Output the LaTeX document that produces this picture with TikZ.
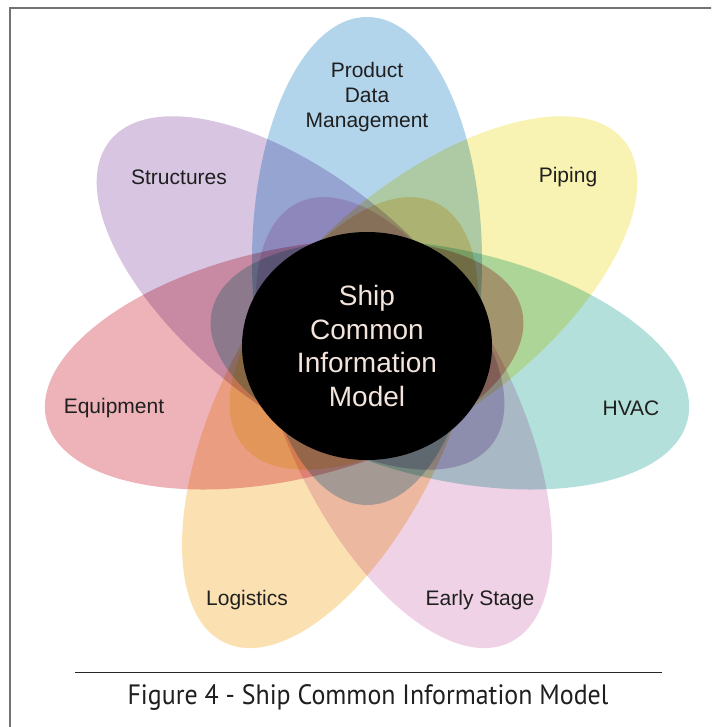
\documentclass[tikz,border=0pt]{standalone}
\usepackage{fontspec}
\setmainfont{Liberation Sans}
\newfontfamily\capfont[FakeStretch=0.925]{PT Sans}
\usetikzlibrary{shapes.geometric}

\definecolor{pdmblue}{HTML}{B3D5EC}
\definecolor{pipeyellow}{HTML}{F8F3B2}
\definecolor{hvacteal}{HTML}{B3E0DA}
\definecolor{earlypink}{HTML}{F0D2E6}
\definecolor{logorange}{HTML}{FBE1B2}
\definecolor{equipred}{HTML}{EEB3B8}
\definecolor{structpurple}{HTML}{D7C5E2}
\definecolor{coretext}{HTML}{F3E4DC}

\begin{document}
\begin{tikzpicture}[x=1pt,y=-1pt,
  petal/.style={fill=#1},
  tag/.style={font=\fontsize{21}{25}\selectfont, text=black!88, align=center, inner sep=0pt},
  ]
\clip (0,0) rectangle (711,727);
\fill[white] (0,0) rectangle (711,727);
\draw[black!55, line width=1.3pt] (10,8) rectangle (760,780);

\coordinate (hub) at (367,346);
\begin{scope}[blend group=multiply]
\foreach \ang/\col in {90/pdmblue, 38.57/pipeyellow, -12.86/hvacteal,
  -64.29/earlypink, -115.71/logorange, -167.14/equipred, 141.43/structpurple}
  \fill[petal=\col, shift={(hub)}, rotate=\ang] (85,0) ellipse [x radius=244, y radius=115];
\end{scope}

\node[ellipse, fill=black, minimum width=250pt, minimum height=228pt, inner sep=0pt,
  text=coretext, align=center, font=\fontsize{28}{33.5}\selectfont] (core) at (hub)
  {Ship\\Common\\Information\\Model};

\node[tag] (pdm) at (367,97) {Product\\Data\\Management};
\node[tag] (struct) at (179,177) {Structures};
\node[tag] (piping) at (568,177) {Piping};
\node[tag] (equip) at (114,408) {Equipment};
\node[tag] (hvac) at (631,408) {HVAC};
\node[tag] (logis) at (247,600) {Logistics};
\node[tag] (early) at (480,600) {Early Stage};

\draw[black!85, line width=0.9pt] (75,672) -- (662,672);
\node[font=\capfont\fontsize{28}{30}\selectfont, text=black!88, inner sep=0pt] (caption) at (368,697)
  {Figure 4 - Ship Common Information Model};
\end{tikzpicture}
\end{document}
